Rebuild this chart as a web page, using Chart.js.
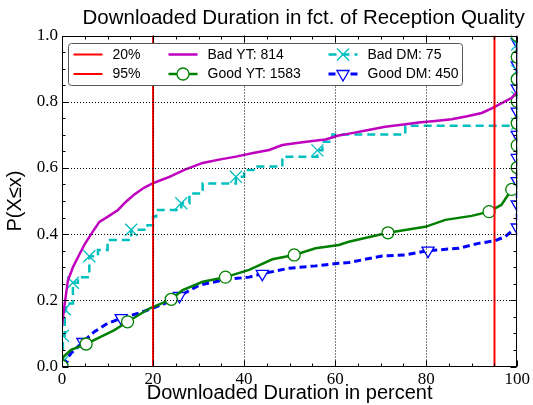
<!DOCTYPE html>
<html>
<head>
<meta charset="utf-8">
<script src="https://cdn.jsdelivr.net/npm/chart.js@4.4.1/dist/chart.umd.min.js"></script>
<style>
  html, body { margin: 0; padding: 0; background: #fff; }
  #wrap { width: 533px; height: 405px; position: relative; }
</style>
</head>
<body>
<div id="wrap"><canvas id="cdfChart"></canvas></div>
<script>
// share of the video that got downloaded, as a CDF per reception quality
const chartTitle = 'Downloaded Duration in fct. of Reception Quality';
const thresholds = [20, 95];
const thresholdLabels = ['20%', '95%'];

const badYtX = [0, 0.4, 1.3, 2.4, 3.5, 5, 6.4, 8.2, 10, 12.3, 14, 15.9, 18, 19.9, 21.5, 23.6, 27, 30.9, 34.5, 38.2,
  42, 45.5, 48.4, 52, 55, 57.9, 60.5, 63.7, 67, 71, 75, 78.3, 82, 85.6, 89, 92.2, 94.4, 96.5, 98.7, 100, 100];
const badYtY = [0.12, 0.17, 0.26, 0.30, 0.33, 0.37, 0.40, 0.437, 0.452, 0.473, 0.497, 0.52, 0.54, 0.553, 0.562, 0.573, 0.595, 0.615, 0.625, 0.634,
  0.645, 0.654, 0.669, 0.676, 0.681, 0.686, 0.697, 0.705, 0.714, 0.724, 0.731, 0.737, 0.742, 0.747, 0.756, 0.766, 0.78, 0.795, 0.811, 0.83, 1.0];

const goodYtX = [0, 0.2, 2, 5.3, 8.6, 11.5, 14.4, 17.4, 19.3, 24, 26.5, 30.9, 35.9, 41.1, 46.2, 51, 55.7, 60.8, 63, 71.6,
  79.8, 84.2, 90, 93.8, 96.5, 98.8, 100, 100, 100, 100, 100, 100, 100, 100];
const goodYtY = [0.001, 0.028, 0.05, 0.068, 0.09, 0.11, 0.135, 0.16, 0.176, 0.203, 0.231, 0.256, 0.27, 0.292, 0.324, 0.337, 0.357, 0.367, 0.377, 0.404,
  0.422, 0.443, 0.455, 0.468, 0.488, 0.535, 0.55, 0.601, 0.668, 0.735, 0.801, 0.868, 0.935, 1.0];
const goodYtMarks = [0, 3, 6, 9, 12, 15, 19, 23, 25, 27, 28, 29, 30, 31, 32, 33];

const badDmX = [0, 0.2, 0.6, 0.9, 2.4, 3.5, 6, 7.9, 10, 15.2, 18.8, 20, 20.7, 26.2, 28, 30.9, 38.2, 40, 42.6, 48.4,
  56.1, 57.2, 59.4, 75.4, 100, 100, 100, 100, 100];
const badDmY = [0.013, 0.093, 0.173, 0.19, 0.253, 0.27, 0.333, 0.352, 0.382, 0.413, 0.427, 0.453, 0.473, 0.493, 0.523, 0.553, 0.573, 0.594, 0.604, 0.634,
  0.653, 0.679, 0.701, 0.727, 0.733, 0.813, 0.893, 0.973, 1.0];
const badDmMarks = [0, 1, 2, 4, 6, 9, 13, 16, 20, 24, 25, 26, 27];

const goodDmX = [0, 2, 4.6, 7.1, 10, 13, 16.6, 19.9, 22.5, 25.8, 30.2, 36, 41.1, 44, 49.9, 55.7, 60.8, 63, 70.3, 75.4,
  80.4, 87.1, 91.5, 95.1, 97.3, 99.3, 100, 100, 100, 100, 100, 100, 100, 100, 100, 100];
const goodDmY = [0.004, 0.04, 0.074, 0.105, 0.13, 0.146, 0.16, 0.176, 0.19, 0.213, 0.246, 0.263, 0.27, 0.28, 0.297, 0.304, 0.312, 0.314, 0.334, 0.337,
  0.35, 0.357, 0.372, 0.38, 0.392, 0.414, 0.42, 0.49, 0.56, 0.63, 0.70, 0.77, 0.84, 0.91, 0.98, 1.0];
const goodDmMarks = [0, 2, 5, 9, 13, 20, 26, 27, 28, 29, 30, 31, 32, 33, 34];

const xTicks = [0, 20, 40, 60, 80, 100];
const yTicks = [0, 0.2, 0.4, 0.6, 0.8, 1.0];

const SANS = "'Liberation Sans', Arial, sans-serif";
const SERIF = "'Liberation Serif', 'DejaVu Serif', serif";

function toPoints(xs, ys) {
  return xs.map((x, i) => ({ x: x, y: ys[i] }));
}

// only every n-th sample gets a marker, like markevery
function markerRadius(marks, r) {
  return ctx => marks.includes(ctx.dataIndex) ? r : 0;
}

function thresholdLine(v, label) {
  return {
    label: label,
    data: [{ x: v, y: 0 }, { x: v, y: 1 }],
    borderColor: '#ff0000',
    borderWidth: 2,
    pointRadius: 0,
    clip: 0
  };
}

const datasets = [
  thresholdLine(thresholds[0], thresholdLabels[0]),
  thresholdLine(thresholds[1], thresholdLabels[1]),
  {
    label: 'Bad YT: 814',
    data: toPoints(badYtX, badYtY),
    borderColor: '#bf00bf',
    borderWidth: 2.5,
    pointRadius: 0,
    clip: 0
  },
  {
    label: 'Good YT: 1583',
    data: toPoints(goodYtX, goodYtY),
    borderColor: '#008000',
    borderWidth: 2.5,
    pointStyle: 'circle',
    pointRadius: markerRadius(goodYtMarks, 6),
    pointBackgroundColor: '#ffffff',
    pointBorderColor: '#008000',
    pointBorderWidth: 1.3,
    legendMarker: 6,
    clip: 0
  },
  {
    label: 'Bad DM: 75',
    data: toPoints(badDmX, badDmY),
    borderColor: '#00bfbf',
    borderWidth: 2.5,
    borderDash: [8, 5],
    stepped: 'before',
    pointStyle: 'crossRot',
    pointRadius: markerRadius(badDmMarks, 8.5),
    pointBackgroundColor: '#ffffff',
    pointBorderColor: '#00bfbf',
    pointBorderWidth: 1.3,
    legendMarker: 8.5,
    clip: 0
  },
  {
    label: 'Good DM: 450',
    data: toPoints(goodDmX, goodDmY),
    borderColor: '#0000ff',
    borderWidth: 3,
    borderDash: [7, 4],
    pointStyle: 'triangle',
    pointRotation: 180,
    pointRadius: markerRadius(goodDmMarks, 7),
    pointBackgroundColor: '#ffffff',
    pointBorderColor: '#0000ff',
    pointBorderWidth: 1.3,
    legendMarker: 7,
    clip: 0
  }
];

// title sits a little right of the plot centre
const titleText = {
  id: 'titleText',
  afterDraw(chart) {
    const ctx = chart.ctx;
    ctx.save();
    ctx.fillStyle = '#000000';
    ctx.font = '20.5px ' + SANS;
    ctx.textAlign = 'center';
    ctx.textBaseline = 'middle';
    ctx.fillText(chartTitle, chart.chartArea.left + chart.chartArea.width / 2 + 14, 18);
    ctx.restore();
  }
};

// dotted grid, drawn right after the curves and before the legend box
const dottedGrid = {
  id: 'dottedGrid',
  afterDatasetsDraw(chart) {
    const ctx = chart.ctx;
    const a = chart.chartArea;
    const xs = chart.scales.x, ys = chart.scales.y;
    ctx.save();
    ctx.strokeStyle = '#000000';
    ctx.lineWidth = 1;
    ctx.setLineDash([1, 2]);
    ctx.beginPath();
    for (const v of xTicks.slice(1, -1)) {
      const px = Math.round(xs.getPixelForValue(v)) + 0.5;
      ctx.moveTo(px, a.top); ctx.lineTo(px, a.bottom);
    }
    for (const v of yTicks.slice(1, -1)) {
      const py = Math.round(ys.getPixelForValue(v)) + 0.5;
      ctx.moveTo(a.left, py); ctx.lineTo(a.right, py);
    }
    ctx.stroke();
    ctx.restore();
  }
};

// matplotlib-like legend: two rows, three columns, line sample with marker
const boxLegend = {
  id: 'boxLegend',
  afterDatasetsDraw(chart) {
    const ctx = chart.ctx;
    const a = chart.chartArea;
    const bx = a.left + 6.5, by = a.top + 8, bw = 394, bh = 42;
    ctx.save();
    ctx.beginPath();
    ctx.roundRect(bx, by, bw, bh, 3);
    ctx.fillStyle = '#ffffff';
    ctx.fill();
    ctx.strokeStyle = '#555555';
    ctx.lineWidth = 1;
    ctx.stroke();

    const colX = [5, 100, 260];
    const rowY = [11, 30.5];
    chart.data.datasets.forEach((ds, i) => {
      const x0 = bx + colX[Math.floor(i / 2)];
      const y0 = by + rowY[i % 2];
      ctx.strokeStyle = ds.borderColor;
      ctx.lineWidth = ds.borderWidth;
      ctx.setLineDash(ds.borderDash || []);
      ctx.beginPath();
      ctx.moveTo(x0, y0);
      ctx.lineTo(x0 + 29, y0);
      ctx.stroke();
      ctx.setLineDash([]);
      if (ds.legendMarker) {
        ctx.fillStyle = '#ffffff';
        ctx.strokeStyle = ds.pointBorderColor;
        ctx.lineWidth = ds.pointBorderWidth;
        Chart.helpers.drawPoint(ctx, {
          pointStyle: ds.pointStyle,
          rotation: ds.pointRotation || 0,
          radius: ds.legendMarker,
          borderWidth: ds.pointBorderWidth
        }, x0 + 14.5, y0);
      }
      ctx.fillStyle = '#000000';
      ctx.font = '14px ' + SANS;
      ctx.textBaseline = 'middle';
      ctx.textAlign = 'left';
      ctx.fillText(ds.label, x0 + 39, y0 + 0.5);
    });
    ctx.restore();
  }
};

// frame on all four sides with inward major and minor ticks
const frameTicks = {
  id: 'frameTicks',
  afterDraw(chart) {
    const ctx = chart.ctx;
    const a = chart.chartArea;
    const xs = chart.scales.x, ys = chart.scales.y;
    const L = Math.round(a.left) + 0.5, R = Math.round(a.right) - 0.5;
    const T = Math.round(a.top) + 0.5, B = Math.round(a.bottom) - 0.5;
    ctx.save();
    ctx.strokeStyle = '#000000';
    ctx.lineWidth = 1;
    ctx.beginPath();
    for (let v = 0; v <= 100; v += 5) {
      const px = Math.round(xs.getPixelForValue(v)) + 0.5;
      const len = v % 20 === 0 ? 6 : 3;
      ctx.moveTo(px, B); ctx.lineTo(px, B - len);
      ctx.moveTo(px, T); ctx.lineTo(px, T + len);
    }
    for (let i = 0; i <= 20; i++) {
      const py = Math.round(ys.getPixelForValue(i * 0.05)) + 0.5;
      const len = i % 4 === 0 ? 6 : 3;
      ctx.moveTo(L, py); ctx.lineTo(L + len, py);
      ctx.moveTo(R, py); ctx.lineTo(R - len, py);
    }
    ctx.stroke();
    ctx.strokeRect(L, T, R - L, B - T);
    ctx.restore();
  }
};

const chart = new Chart(document.getElementById('cdfChart'), {
  type: 'line',
  data: { datasets: datasets },
  options: {
    responsive: true,
    maintainAspectRatio: false,
    animation: false,
    events: [],
    layout: { padding: { top: 35.5, right: 14, left: 0, bottom: 0 } },
    plugins: {
      legend: { display: false },
      tooltip: { enabled: false },
      title: { display: false }
    },
    scales: {
      x: {
        type: 'linear',
        min: 0,
        max: 100,
        afterBuildTicks: s => { s.ticks = xTicks.map(v => ({ value: v })); },
        afterFit: s => { s.height = 38.5; },
        ticks: { color: '#000000', padding: 3, font: { family: SERIF, size: 17 } },
        grid: { display: false, drawTicks: false },
        border: { display: false },
        title: {
          display: true,
          text: 'Downloaded Duration in percent',
          color: '#000000',
          font: { family: SANS, size: 20 },
          padding: { top: 0, bottom: 0 }
        }
      },
      y: {
        type: 'linear',
        min: 0,
        max: 1,
        afterBuildTicks: s => { s.ticks = yTicks.map(v => ({ value: v })); },
        afterFit: s => { s.width = 62; },
        ticks: {
          color: '#000000',
          padding: 4,
          font: { family: SERIF, size: 17 },
          callback: v => v.toFixed(1)
        },
        grid: { display: false, drawTicks: false },
        border: { display: false },
        title: {
          display: true,
          text: 'P(X≤x)',
          color: '#000000',
          font: { family: SANS, size: 20 },
          padding: { top: 3, bottom: 0 }
        }
      }
    }
  },
  plugins: [dottedGrid, boxLegend, frameTicks, titleText]
});
</script>
</body>
</html>
